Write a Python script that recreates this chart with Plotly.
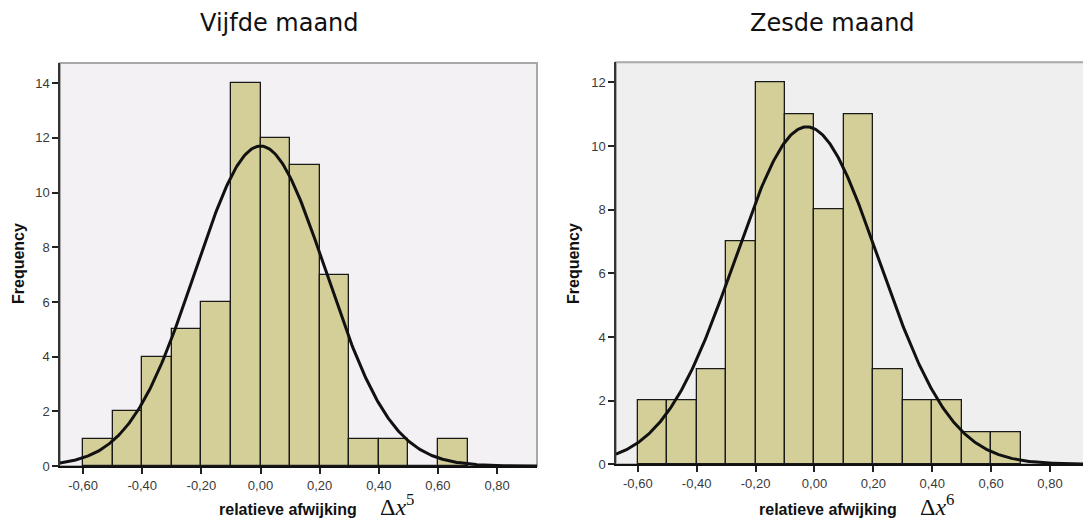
import numpy as np
import plotly.graph_objects as go

bin_edges = [-0.6, -0.5, -0.4, -0.3, -0.2, -0.1, 0.0, 0.1, 0.2, 0.3, 0.4, 0.5, 0.6, 0.7]
counts_m5 = [1, 2, 4, 5, 6, 14, 12, 11, 7, 1, 1, 0, 1]
counts_m6 = [2, 2, 3, 7, 12, 11, 8, 11, 3, 2, 2, 1, 1]
mean_m5, sd_m5 = 0.0, 0.2216
mean_m6, sd_m6 = -0.026, 0.2446
xtick_vals = [-0.6, -0.4, -0.2, 0.0, 0.2, 0.4, 0.6, 0.8]
xtick_text = ["-0,60", "-0,40", "-0,20", "0,00", "0,20", "0,40", "0,60", "0,80"]
titles = ["Vijfde maand", "Zesde maand"]

W, H = 1083, 521
bin_w = 0.1
centers = [(a + b) / 2 for a, b in zip(bin_edges[:-1], bin_edges[1:])]

def normal_curve(counts, mu, sd, lo, hi):
    xs = np.linspace(lo, hi, 400)
    n = sum(counts)
    ys = n * bin_w / (sd * np.sqrt(2 * np.pi)) * np.exp(-0.5 * ((xs - mu) / sd) ** 2)
    return xs, ys

fig = go.Figure()
bar_color = "#D4CF98"

ranges = [(-0.678, 0.935), (-0.674, 0.912)]
for i, (counts, mu, sd) in enumerate([(counts_m5, mean_m5, sd_m5), (counts_m6, mean_m6, sd_m6)]):
    xa = "x" if i == 0 else "x2"
    ya = "y" if i == 0 else "y2"
    fig.add_trace(go.Bar(x=centers, y=counts, width=bin_w, marker=dict(color=bar_color,
                         line=dict(color="#1a1a1a", width=1.3)), xaxis=xa, yaxis=ya, showlegend=False))
    xs, ys = normal_curve(counts, mu, sd, ranges[i][0], ranges[i][1])
    fig.add_trace(go.Scatter(x=xs, y=ys, mode="lines", line=dict(color="#111111", width=3),
                             xaxis=xa, yaxis=ya, showlegend=False))

tickfont = dict(family="Liberation Sans, Arial", size=13, color="#3a3a3a")
common_x = dict(tickvals=xtick_vals, ticktext=xtick_text, ticks="outside", ticklen=6, tickwidth=1.5,
                tickcolor="#222222", showgrid=False, zeroline=False, showline=True, linecolor="#111111",
                linewidth=2, tickfont=tickfont, mirror=False, automargin=False)
common_y = dict(ticks="outside", ticklen=6, tickwidth=1.5, tickcolor="#222222", showgrid=False,
                zeroline=False, showline=True, linecolor="#333333", linewidth=1.5, tickfont=tickfont,
                automargin=False)

fig.update_layout(
    width=W, height=H,
    margin=dict(l=0, r=0, t=0, b=0),
    paper_bgcolor="white",
    plot_bgcolor="white",
    bargap=0,
    xaxis=dict(domain=[60 / W, 537 / W], range=list(ranges[0]), anchor="y", **common_x),
    yaxis=dict(domain=[1 - 466 / H, 1 - 63 / H], range=[0, 14.74], tickvals=[0, 2, 4, 6, 8, 10, 12, 14],
               anchor="x", **common_y),
    xaxis2=dict(domain=[616 / W, 1.0], range=list(ranges[1]), anchor="y2", **common_x),
    yaxis2=dict(domain=[1 - 464.3 / H, 1 - 62.3 / H], range=[0, 12.63], tickvals=[0, 2, 4, 6, 8, 10, 12],
                anchor="x2", **common_y),
)

# plot backgrounds with gray top/right frame
fig.add_shape(type="rect", xref="x domain", yref="y domain", x0=0, x1=1, y0=0, y1=1,
              fillcolor="#F4F1F4", line=dict(color="#A8A8A8", width=2), layer="below")
fig.add_shape(type="rect", xref="x2 domain", yref="y2 domain", x0=0, x1=1.01, y0=0, y1=1,
              fillcolor="#EFEFEF", line=dict(color="#A8A8A8", width=2), layer="below")

# titles
for t, xc in zip(titles, [279, 832]):
    fig.add_annotation(text=t, x=xc / W, y=1 - 23 / H, xref="paper", yref="paper",
                       xanchor="center", yanchor="middle", showarrow=False,
                       font=dict(family="DejaVu Sans", size=24, color="#111111"))

# y axis titles
for xpos, ypos in [(18, 264), (573, 264)]:
    fig.add_annotation(text="<b>Frequency</b>", x=xpos / W, y=1 - ypos / H, xref="paper", yref="paper",
                       xanchor="center", yanchor="middle", showarrow=False, textangle=-90,
                       font=dict(family="Liberation Sans, Arial", size=16, color="#111111"))

# x axis titles
for xlab, xsym, sup in [(288, 378, "5"), (828, 918, "6")]:
    fig.add_annotation(text="<b>relatieve afwijking</b>", x=xlab / W, y=1 - 509 / H,
                       xref="paper", yref="paper", xanchor="center", yanchor="middle", showarrow=False,
                       font=dict(family="Liberation Sans, Arial", size=16, color="#111111"))
    fig.add_annotation(text="Δ<i>x</i><sup>" + sup + "</sup>", x=xsym / W, y=1 - 505 / H,
                       xref="paper", yref="paper", xanchor="left", yanchor="middle", showarrow=False,
                       font=dict(family="Liberation Serif, Times New Roman", size=24, color="#111111"))

fig.write_html("out.html", config={"displayModeBar": False},
               post_script="document.body.style.margin='0';")
